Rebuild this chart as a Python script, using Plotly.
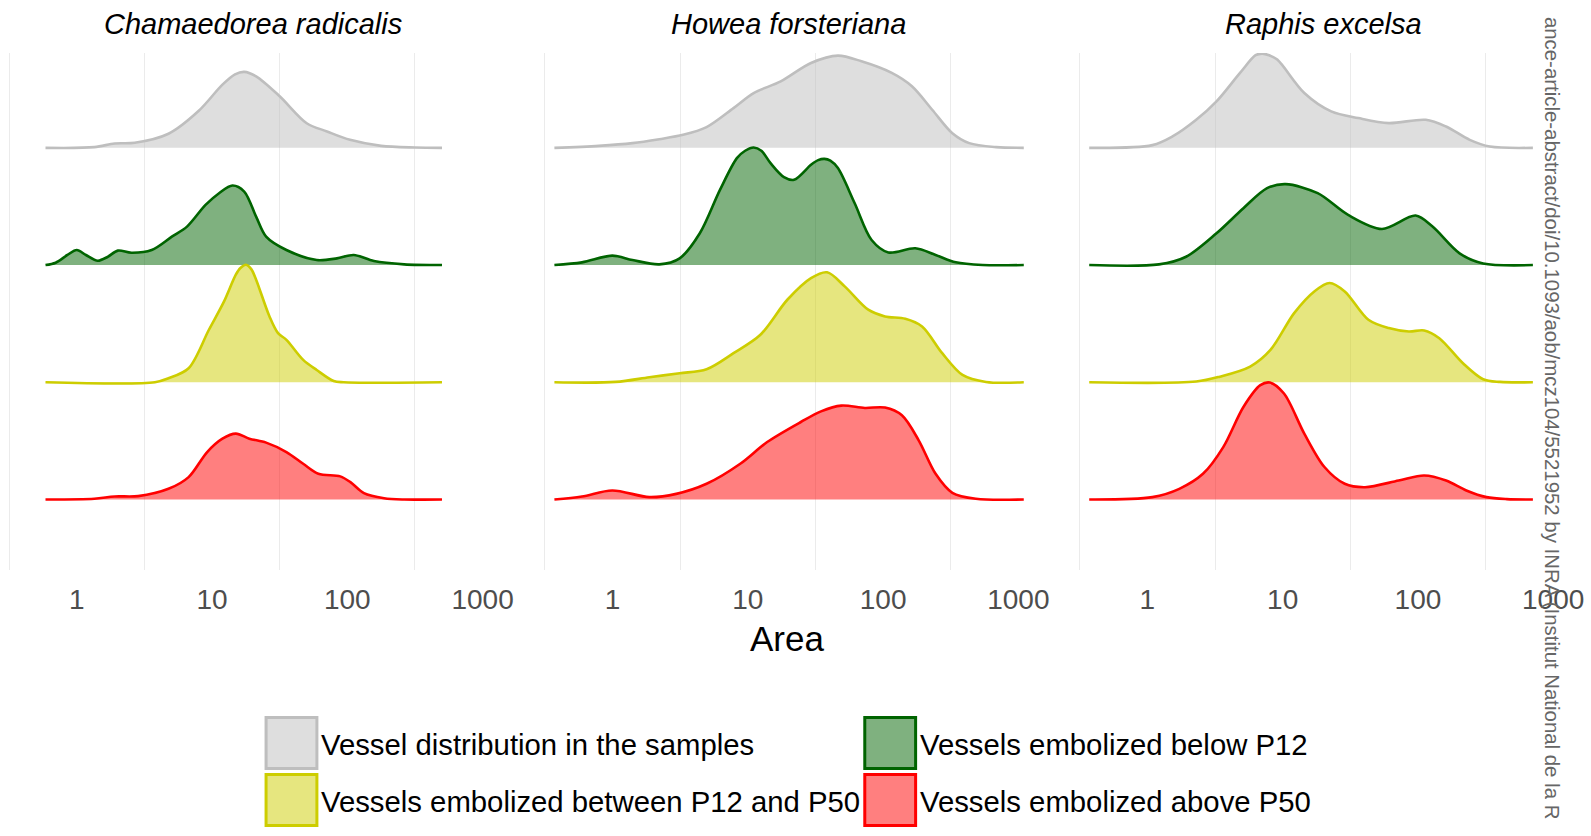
import plotly.graph_objects as go

# ---------------- data ----------------
species = ["Chamaedorea radicalis", "Howea forsteriana", "Raphis excelsa"]
groups = [
    "Vessel distribution in the samples",
    "Vessels embolized below P12",
    "Vessels embolized between P12 and P50",
    "Vessels embolized above P50",
]
tick_values = [1, 10, 100, 1000]
tick_labels = ["1", "10", "100", "1000"]
x_title = "Area"

# log10(Area) and scaled density height for every ridge
# --- Chamaedorea radicalis
cr_all_logx = [-0.231, 0.130, 0.280, 0.429, 0.678, 0.902, 1.077, 1.17, 1.238, 1.326, 1.50, 1.70, 1.85, 2.02, 2.25, 2.50, 2.70]
cr_all_h = [0, 0.006, 0.037, 0.043, 0.12, 0.316, 0.539, 0.627, 0.648, 0.61, 0.44, 0.21, 0.14, 0.068, 0.017, 0.003, 0]
cr_low_logx = [-0.231, -0.156, -0.069, 0.0, 0.068, 0.155, 0.230, 0.304, 0.404, 0.554, 0.703, 0.815, 0.952, 1.052, 1.151, 1.238, 1.326, 1.40, 1.55, 1.774, 1.923, 2.048, 2.197, 2.42, 2.70]
cr_low_h = [0, 0.02, 0.086, 0.128, 0.086, 0.037, 0.071, 0.123, 0.105, 0.128, 0.242, 0.328, 0.513, 0.613, 0.678, 0.627, 0.413, 0.242, 0.128, 0.043, 0.057, 0.086, 0.034, 0.006, 0]
cr_mid_logx = [-0.231, 0.578, 0.678, 0.827, 0.977, 1.089, 1.176, 1.21, 1.251, 1.29, 1.326, 1.425, 1.488, 1.55, 1.674, 1.774, 1.899, 1.973, 2.70]
cr_mid_h = [0, 0, 0.034, 0.12, 0.448, 0.69, 0.918, 0.975, 1.003, 0.965, 0.875, 0.561, 0.419, 0.362, 0.191, 0.105, 0.011, 0, 0]
cr_high_logx = [-0.231, 0.130, 0.280, 0.454, 0.678, 0.827, 0.964, 1.077, 1.176, 1.276, 1.40, 1.55, 1.674, 1.786, 1.948, 2.023, 2.123, 2.272, 2.42, 2.70]
cr_high_h = [0, 0.006, 0.026, 0.029, 0.091, 0.191, 0.405, 0.519, 0.562, 0.519, 0.485, 0.405, 0.305, 0.22, 0.197, 0.148, 0.054, 0.011, 0, 0]

# --- Howea forsteriana
hf_all_logx = [-0.43, -0.102, 0.147, 0.346, 0.521, 0.695, 0.894, 1.043, 1.243, 1.467, 1.666, 1.84, 2.064, 2.213, 2.363, 2.512, 2.637, 2.836, 3.04]
hf_all_h = [0, 0.017, 0.04, 0.074, 0.111, 0.177, 0.339, 0.467, 0.567, 0.724, 0.787, 0.738, 0.639, 0.525, 0.325, 0.125, 0.04, 0.006, 0]
hf_low_logx = [-0.43, -0.226, -0.002, 0.147, 0.346, 0.496, 0.645, 0.794, 0.919, 0.98, 1.043, 1.10, 1.168, 1.267, 1.342, 1.467, 1.52, 1.566, 1.61, 1.666, 1.79, 1.915, 2.039, 2.238, 2.388, 2.537, 2.736, 3.04]
hf_low_h = [0, 0.023, 0.08, 0.043, 0.006, 0.057, 0.271, 0.641, 0.912, 0.975, 1.003, 0.975, 0.869, 0.75, 0.727, 0.855, 0.895, 0.906, 0.89, 0.827, 0.527, 0.214, 0.108, 0.143, 0.086, 0.023, 0, 0]
hf_mid_logx = [-0.43, 0.023, 0.272, 0.496, 0.695, 0.894, 1.093, 1.292, 1.467, 1.586, 1.716, 1.89, 2.014, 2.164, 2.288, 2.437, 2.587, 2.761, 3.04]
hf_mid_h = [0, 0.003, 0.043, 0.077, 0.111, 0.248, 0.405, 0.704, 0.889, 0.938, 0.818, 0.619, 0.562, 0.542, 0.476, 0.248, 0.063, 0.003, 0]
hf_high_logx = [-0.43, -0.226, -0.002, 0.272, 0.471, 0.695, 0.944, 1.143, 1.392, 1.541, 1.691, 1.865, 2.014, 2.139, 2.263, 2.388, 2.512, 2.686, 3.04]
hf_high_h = [0, 0.026, 0.077, 0.02, 0.048, 0.134, 0.305, 0.49, 0.661, 0.752, 0.801, 0.781, 0.784, 0.718, 0.505, 0.219, 0.057, 0.006, 0]

# --- Raphis excelsa
re_all_logx = [-0.43, 0.037, 0.186, 0.361, 0.511, 0.685, 0.80, 0.848, 0.90, 0.96, 1.16, 1.359, 1.559, 1.784, 2.058, 2.208, 2.383, 2.532, 2.85]
re_all_h = [0, 0.023, 0.097, 0.239, 0.396, 0.639, 0.79, 0.804, 0.79, 0.753, 0.468, 0.311, 0.254, 0.211, 0.239, 0.182, 0.068, 0.011, 0]
re_low_logx = [-0.43, 0.086, 0.286, 0.511, 0.71, 0.885, 1.022, 1.259, 1.484, 1.734, 1.983, 2.108, 2.308, 2.482, 2.85]
re_low_h = [0, 0.006, 0.071, 0.271, 0.485, 0.656, 0.69, 0.613, 0.428, 0.308, 0.422, 0.328, 0.1, 0.014, 0]
re_mid_logx = [-0.43, 0.361, 0.536, 0.76, 0.91, 1.085, 1.234, 1.347, 1.459, 1.634, 1.784, 1.933, 2.046, 2.158, 2.333, 2.482, 2.607, 2.85]
re_mid_h = [0, 0.006, 0.048, 0.134, 0.276, 0.59, 0.775, 0.847, 0.775, 0.533, 0.462, 0.433, 0.442, 0.376, 0.162, 0.026, 0.003, 0]
re_high_logx = [-0.43, 0.037, 0.236, 0.411, 0.561, 0.71, 0.835, 0.905, 1.01, 1.16, 1.309, 1.459, 1.609, 1.858, 2.046, 2.208, 2.358, 2.507, 2.657, 2.85]
re_high_h = [0, 0.02, 0.091, 0.219, 0.447, 0.789, 0.975, 0.998, 0.904, 0.562, 0.277, 0.134, 0.105, 0.162, 0.205, 0.162, 0.077, 0.02, 0.003, 0]

series = {
    "Chamaedorea radicalis": [(cr_all_logx, cr_all_h), (cr_low_logx, cr_low_h), (cr_mid_logx, cr_mid_h), (cr_high_logx, cr_high_h)],
    "Howea forsteriana": [(hf_all_logx, hf_all_h), (hf_low_logx, hf_low_h), (hf_mid_logx, hf_mid_h), (hf_high_logx, hf_high_h)],
    "Raphis excelsa": [(re_all_logx, re_all_h), (re_low_logx, re_low_h), (re_mid_logx, re_mid_h), (re_high_logx, re_high_h)],
}

watermark = "ance-article-abstract/doi/10.1093/aob/mcz104/5521952 by INRA (Institut National de la R"

# ---------------- style ----------------
line_colors = ["#BEBEBE", "#006400", "#CDCD00", "#FF0000"]
fill_colors = ["rgba(190,190,190,0.5)", "rgba(0,100,0,0.5)", "rgba(205,205,0,0.5)", "rgba(255,0,0,0.5)"]
FONT = "Liberation Sans, Arial, sans-serif"
W, H = 1591, 836


def px_x(p):
    return p / W


def px_y(p):
    return 1 - p / H


panel_px = [(0, 510), (537.5, 1047.5), (1074, 1584)]
x_log_range = [-0.5674, 3.191]
y_range = [0.401, 4.809]
y_domain = [px_y(569.7), px_y(53.0)]
grid_vals = [10 ** -0.5, 10 ** 0.5, 10 ** 1.5, 10 ** 2.5]

fig = go.Figure()

for si, sp in enumerate(species):
    xa = "x" if si == 0 else f"x{si + 1}"
    ya = "y" if si == 0 else f"y{si + 1}"
    for gi, (logx, hs) in enumerate(series[sp]):
        base = len(groups) - gi
        xs = [10 ** v for v in logx]
        fig.add_trace(go.Scatter(
            x=[xs[0], xs[-1]], y=[base, base], mode="lines",
            line=dict(width=0, color="rgba(0,0,0,0)"), hoverinfo="skip",
            showlegend=False, xaxis=xa, yaxis=ya))
        fig.add_trace(go.Scatter(
            x=xs, y=[base + h for h in hs], mode="lines",
            line=dict(color=line_colors[gi], width=2.6, shape="spline", smoothing=0.9),
            fill="tonexty", fillcolor=fill_colors[gi], name=groups[gi],
            showlegend=False, xaxis=xa, yaxis=ya))

layout = dict(
    width=W, height=H,
    margin=dict(l=0, r=0, t=0, b=0),
    plot_bgcolor="white", paper_bgcolor="white",
    font=dict(family=FONT, color="#000000"),
)

for si in range(3):
    x0, x1 = panel_px[si]
    key = "" if si == 0 else str(si + 1)
    layout["xaxis" + key] = dict(
        type="log", domain=[px_x(x0), px_x(x1)], range=x_log_range,
        tickmode="array", tickvals=tick_values, ticktext=tick_labels,
        showgrid=False, zeroline=False, showline=False, ticks="",
        tickfont=dict(family=FONT, size=28, color="#4D4D4D"),
        ticklabelstandoff=10,
        minor=dict(tickmode="array", tickvals=grid_vals, showgrid=True,
                   gridcolor="#EBEBEB", gridwidth=1.3, ticks=""),
        anchor="y" + key,
    )
    layout["yaxis" + key] = dict(
        domain=y_domain, range=y_range, showgrid=False, zeroline=False,
        showticklabels=False, showline=False, ticks="",
        anchor="x" + key,
    )

fig.update_layout(**layout)

# facet titles
title_px = [254.2, 791.0, 1328.0]
for si, sp in enumerate(species):
    fig.add_annotation(
        x=px_x(title_px[si]), y=px_y(23.8), xref="paper", yref="paper",
        text=f"<i>{sp}</i>", showarrow=False, xanchor="center", yanchor="middle",
        font=dict(family=FONT, size=29, color="#000000"))

# x-axis title
fig.add_annotation(
    x=px_x(789), y=px_y(638), xref="paper", yref="paper", text=x_title,
    showarrow=False, xanchor="center", yanchor="middle",
    font=dict(family=FONT, size=35, color="#000000"))

# legend (2 x 2)
key_pos = [(265.4, 716), (866, 716), (265.4, 773), (866, 773)]
for k, gi in enumerate(range(len(groups))):
    kx, ky = key_pos[k]
    fig.add_shape(
        type="rect", xref="paper", yref="paper",
        x0=px_x(kx + 1.5), x1=px_x(kx + 52.5), y0=px_y(ky + 52.5), y1=px_y(ky + 1.5),
        fillcolor=fill_colors[gi], line=dict(color=line_colors[gi], width=3))
    fig.add_annotation(
        x=px_x(kx + 55), y=px_y(ky + 28.5), xref="paper", yref="paper",
        text=groups[gi], showarrow=False, xanchor="left", yanchor="middle",
        font=dict(family=FONT, size=29.3, color="#000000"))

# rotated watermark on the right edge
fig.add_annotation(
    x=px_x(1557), y=px_y(418), xref="paper", yref="paper", text=watermark,
    showarrow=False, textangle=90, xanchor="center", yanchor="middle",
    font=dict(family=FONT, size=20.4, color="#666666"))

fig.write_html(
    "out.html",
    config={"displayModeBar": False},
    post_script="document.body.style.margin='0';document.body.style.overflow='hidden';",
)
